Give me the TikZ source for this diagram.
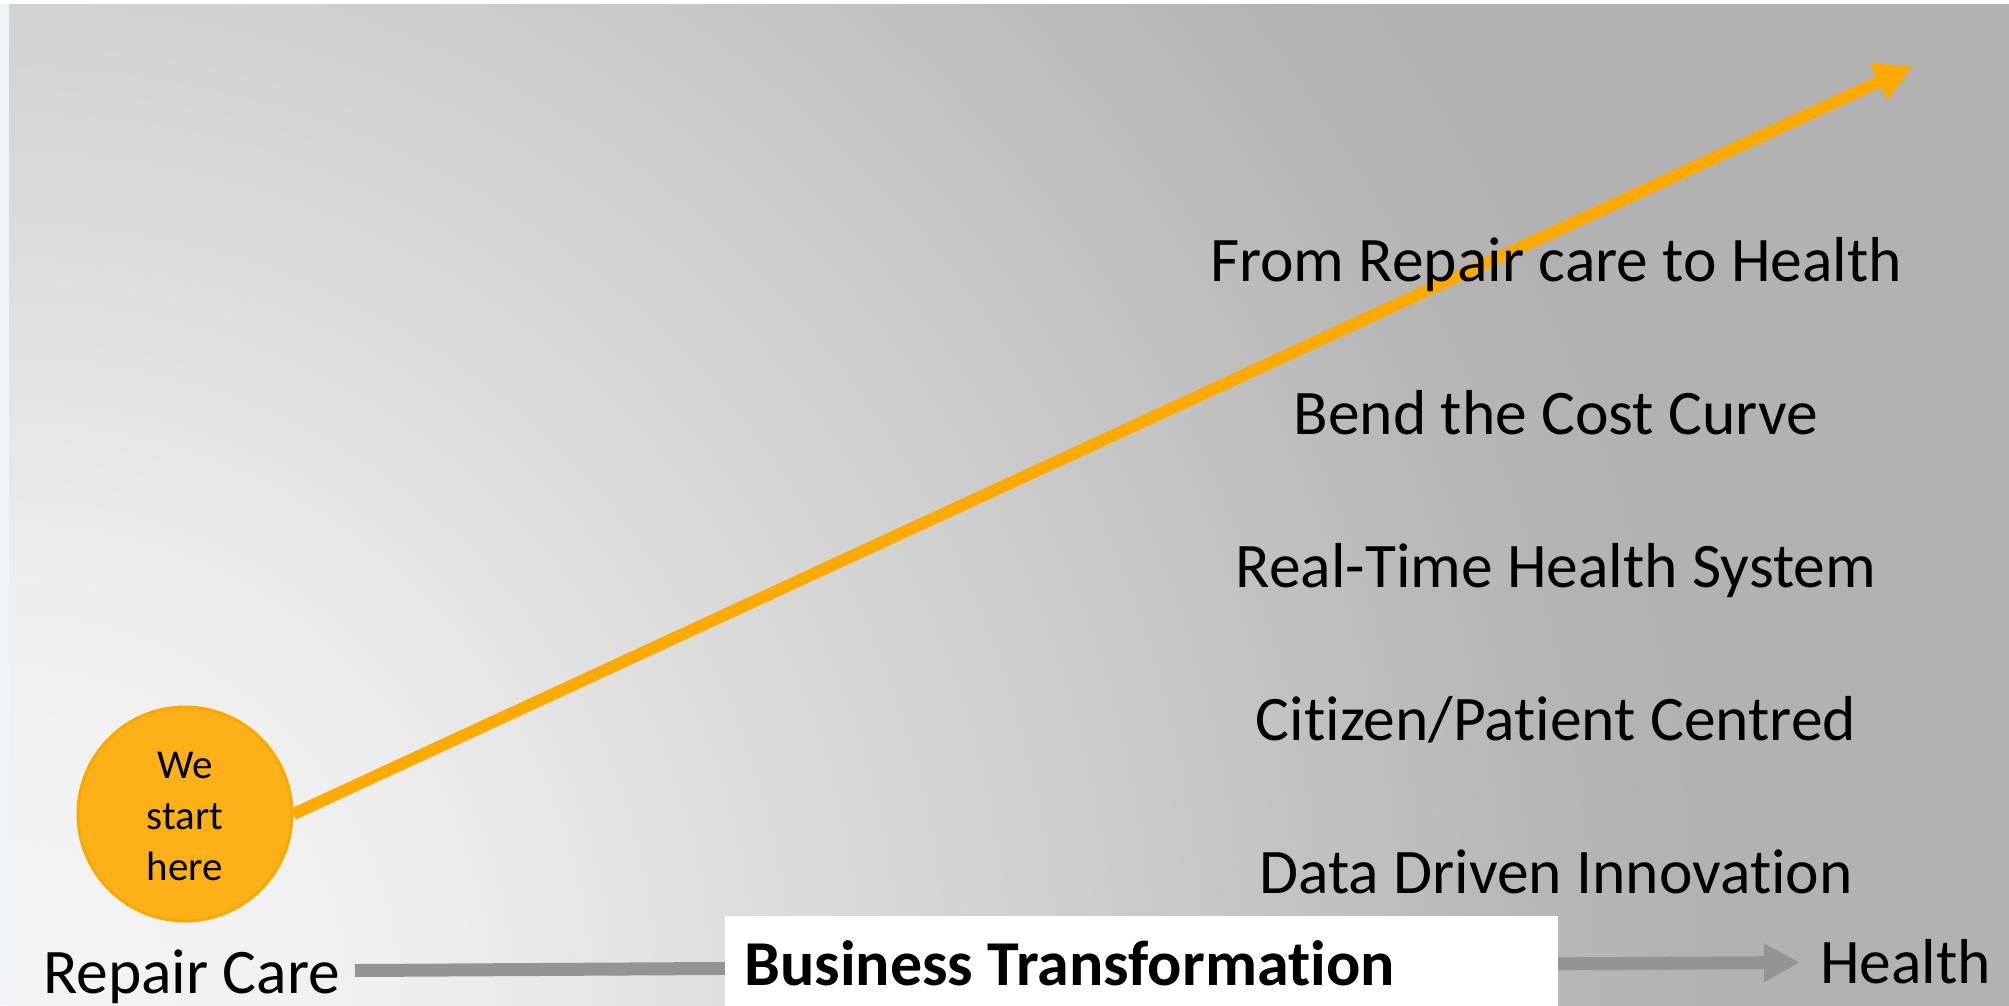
\documentclass[tikz,border=0pt]{standalone}
\usepackage{fontspec}
\setmainfont{Carlito}[Ligatures=NoCommon]
\usetikzlibrary{arrows.meta}
\definecolor{g0}{HTML}{F4F4F4}
\definecolor{g1}{HTML}{F2F2F2}
\definecolor{g2}{HTML}{EEEEEE}
\definecolor{g3}{HTML}{DCDCDC}
\definecolor{g4}{HTML}{CECECE}
\definecolor{g5}{HTML}{C5C5C5}
\definecolor{g6}{HTML}{B8B8B8}
\definecolor{g7}{HTML}{B3B3B3}
\definecolor{g8}{HTML}{B2B2B2}
\definecolor{stripc}{HTML}{F1F5FA}
\definecolor{orangeline}{HTML}{FFAA00}
\definecolor{circfill}{HTML}{FDB018}
\definecolor{circdraw}{HTML}{F7A900}
\definecolor{grayarrow}{HTML}{949494}
\pgfdeclareradialshading{bgrad}{\pgfpoint{0bp}{0bp}}{%
  color(0bp)=(g0); color(2.6bp)=(g1); color(4.95bp)=(g2); color(9.2bp)=(g3);
  color(12.85bp)=(g4); color(14.8bp)=(g5); color(18bp)=(g6); color(19.7bp)=(g7);
  color(20.5bp)=(g8); color(50bp)=(g8)}
\pgfdeclarelayer{bglayer}
\pgfdeclarelayer{linelayer}
\pgfsetlayers{bglayer,linelayer,main}
\tikzset{
  bigtext/.style={font=\fontsize{63.5}{76}\selectfont, text=black, inner sep=0pt},
  boldtext/.style={font=\fontsize{64}{77}\selectfont\bfseries, text=black, inner sep=0pt},
  circtext/.style={font=\fontsize{41}{51}\selectfont, text=black, align=center},
  startcircle/.style={circle, minimum size=214pt, inner sep=0pt, fill=circfill, draw=circdraw, line width=3pt},
  orangearrow/.style={draw=orangeline, line width=12pt, -{Triangle[length=38pt,width=38pt]}},
  grayarr/.style={draw=grayarrow, line width=13pt, -{Triangle[length=36pt,width=36pt]}},
  whitebox/.style={fill=white, draw=none, anchor=north west, minimum width=833pt, minimum height=95pt, inner sep=0pt}
}
\begin{document}
\begin{tikzpicture}[x=1pt,y=-1pt]
\useasboundingbox (0,0) rectangle (2009,1005);
\begin{pgfonlayer}{bglayer}
  \fill[white] (0,0) rectangle (2009,1005);
  \fill[stripc] (0,4) rectangle (9,1005);
  \begin{scope}
    \clip (9,4) rectangle (2009,1005);
    \shade[shading=bgrad] (-2091,-1095) rectangle (2109,3105);
  \end{scope}
\end{pgfonlayer}

% start circle
\node[startcircle] (c) at (185,814) {};
\node[circtext] (ct) at (185,816) {We\\start\\here};

% orange arrow
\coordinate (tip) at (1913,66);
\begin{pgfonlayer}{linelayer}
  \draw[orangearrow] (c.east) -- (tip);
\end{pgfonlayer}

% right column
\node[bigtext, anchor=base] (t1) at (1556,281) {From Repair care to Health};
\node[bigtext, anchor=base] (t2) at (1556,434) {Bend the Cost Curve};
\node[bigtext, anchor=base] (t3) at (1556,587) {Real-Time Health System};
\node[bigtext, anchor=base] (t4) at (1556,740) {Citizen/Patient Centred};
\node[bigtext, anchor=base] (t5) at (1556,893) {Data Driven Innovation};

% bottom axis
\node[bigtext, anchor=base west] (rc) at (43,993) {Repair Care};
\node[bigtext, anchor=base west] (h) at (1820,983) {Health};
\coordinate (gs) at (355,970.5);
\coordinate (ge) at (1800,962.5);
\draw[grayarr] (gs) -- (ge);
\node[whitebox] (box) at (725,916) {};
\node[boldtext, anchor=base west] (bt) at (744,985) {Business Transformation};
\end{tikzpicture}
\end{document}
